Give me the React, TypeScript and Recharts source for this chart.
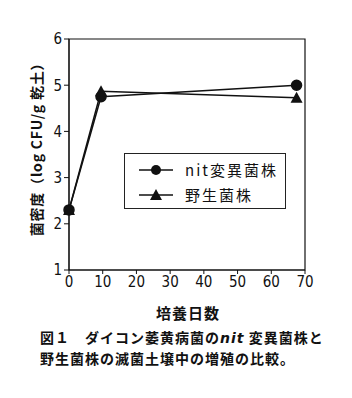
import React from 'react'
import { LineChart, Line, XAxis, YAxis, ReferenceArea } from 'recharts'

const days = [0, 9.5, 67.5]
const nitValues = [2.3, 4.75, 5.0]
const wildValues = [2.3, 4.87, 4.73]
const xTicks = [0, 10, 20, 30, 40, 50, 60, 70]
const yTicks = [1, 2, 3, 4, 5, 6]

const seriesNames = ['nit変異菌株', '野生菌株']

const data = days.map((d, i) => ({ day: d, nit: nitValues[i], wild: wildValues[i] }))

const tickFont = {
  fill: '#111',
  fontSize: 15,
  fontFamily: '"Liberation Sans Narrow", "DejaVu Sans Condensed", sans-serif',
}
const jpFont = '"Noto Sans CJK JP", sans-serif'

const Triangle = (props: any) => {
  const { cx, cy } = props
  if (cx == null || cy == null) return null
  return <path d={`M${cx},${cy - 6} L${cx + 6},${cy + 5} L${cx - 6},${cy + 5} Z`} fill="#111" />
}

function LegendBox() {
  return (
    <div
      style={{
        position: 'absolute',
        left: 124,
        top: 153,
        width: 162,
        height: 56,
        border: '1px solid #222',
        background: '#fff',
        boxSizing: 'border-box',
        fontFamily: jpFont,
        fontSize: 15,
        color: '#111',
        paddingTop: 3,
      }}
    >
      {seriesNames.map((name, i) => (
        <div key={name} style={{ display: 'flex', alignItems: 'center', height: 25 }}>
          <svg width={60} height={20}>
            <line x1={14} y1={10} x2={48} y2={10} stroke="#111" strokeWidth={1.5} />
            {i === 0 ? (
              <circle cx={31} cy={10} r={5} fill="#111" />
            ) : (
              <path d="M31,4 L37,15 L25,15 Z" fill="#111" />
            )}
          </svg>
          <span style={{ letterSpacing: 2 }}>{name}</span>
        </div>
      ))}
    </div>
  )
}

export default function App() {
  return (
    <div style={{ position: 'fixed', left: 0, top: 0, width: 352, height: 398, background: '#fff' }}>
      <LineChart width={352} height={320} data={data} margin={{ top: 39, right: 47, bottom: 20, left: 0 }}>
        <XAxis
          dataKey="day"
          type="number"
          domain={[0, 70]}
          ticks={xTicks}
          tick={tickFont}
          tickSize={4}
          stroke="#111"
          height={30}
        />
        <YAxis
          type="number"
          domain={[1, 6]}
          ticks={yTicks}
          tick={tickFont}
          tickSize={5}
          stroke="#111"
          width={69}
        />
        <ReferenceArea x1={0} x2={70} y1={1} y2={6} fill="none" stroke="#111" strokeWidth={1.2} />
        <Line
          dataKey="nit"
          stroke="#111"
          strokeWidth={1.5}
          dot={{ r: 5, fill: '#111', stroke: '#111' }}
          isAnimationActive={false}
        />
        <Line
          dataKey="wild"
          stroke="#111"
          strokeWidth={1.5}
          dot={<Triangle />}
          isAnimationActive={false}
        />
      </LineChart>
      <LegendBox />
      <div
        style={{
          position: 'absolute',
          left: 36,
          top: 146,
          transform: 'translate(-50%, -50%) rotate(-90deg)',
          whiteSpace: 'nowrap',
          fontFamily: jpFont,
          fontSize: 14,
          fontWeight: 700,
          color: '#111',
          letterSpacing: 0.8,
        }}
      >
        菌密度（log CFU/g 乾土）
      </div>
      <div
        style={{
          position: 'absolute',
          left: 188,
          top: 312,
          transform: 'translate(-50%, -50%)',
          fontFamily: jpFont,
          fontSize: 15,
          fontWeight: 700,
          color: '#111',
          letterSpacing: 1,
        }}
      >
        培養日数
      </div>
      <div
        style={{
          position: 'absolute',
          left: 40,
          top: 327,
          fontFamily: jpFont,
          fontSize: 14,
          fontWeight: 700,
          color: '#111',
          lineHeight: '20px',
          letterSpacing: 1,
          whiteSpace: 'nowrap',
        }}
      >
        <div>
          図１　ダイコン萎黄病菌の<i style={{ fontFamily: 'DejaVu Sans' }}>nit</i> 変異菌株と
        </div>
        <div>野生菌株の滅菌土壌中の増殖の比較。</div>
      </div>
    </div>
  )
}
